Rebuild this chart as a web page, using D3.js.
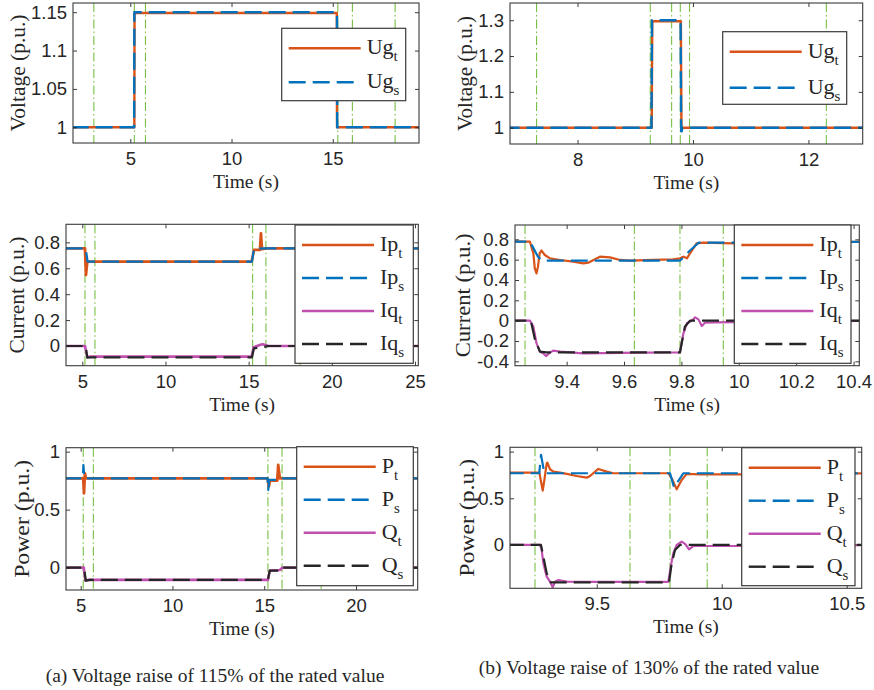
<!DOCTYPE html>
<html>
<head>
<meta charset="utf-8">
<script src="https://cdn.jsdelivr.net/npm/d3@7"></script>
<style>
  body { margin: 0; background: #fff; }
  svg text { fill: #262626; }
  .tick text { font-family: "Liberation Sans", Arial, sans-serif; }
  .lab { font-family: "Liberation Serif", "Times New Roman", serif; }
</style>
</head>
<body>
<svg id="fig" width="874" height="690"></svg>
<script>
// ---- (a) voltage raise of 115% ----
const ugT_a = [[2.1,1],[5.2,1],[5.21,1.149],[15.2,1.149],[15.21,1],[19.3,1]];
const ugS_a = [[2.1,1],[5.19,1],[5.2,1.15],[15.21,1.15],[15.22,1],[19.3,1]];
const ipT_a = [[4,0.754],[5.16,0.754],[5.22,0.548],[5.3,0.651],[15.18,0.651],[15.32,0.741],[15.68,0.741],[15.74,0.869],[15.8,0.748],[16.1,0.754],[25.3,0.754]];
const ipS_a = [[4,0.754],[5.2,0.754],[5.32,0.651],[15.2,0.651],[15.32,0.748],[16,0.754],[25.3,0.754]];
const iqT_a = [[4,0],[5.16,0],[5.3,-0.087],[5.5,-0.082],[15.18,-0.082],[15.3,-0.01],[15.7,0.01],[15.85,0.013],[16.2,0],[25.3,0]];
const iqS_a = [[4,0],[5.2,0],[5.3,-0.09],[5.5,-0.087],[15.2,-0.087],[15.32,-0.018],[16,-0.005],[16.2,0],[25.3,0]];
const pT_a = [[4.1,0.77],[5.14,0.77],[5.18,0.641],[5.23,0.813],[5.28,0.77],[15.18,0.77],[15.25,0.7],[15.31,0.75],[15.71,0.75],[15.76,0.885],[15.85,0.77],[23.5,0.77]];
const pS_a = [[4.1,0.77],[5.12,0.77],[5.15,0.885],[5.2,0.77],[15.18,0.77],[15.22,0.67],[15.27,0.756],[15.95,0.756],[16,0.77],[23.5,0.77]];
const qT_a = [[4.1,0],[5.17,0],[5.25,-0.112],[5.4,-0.106],[15.2,-0.106],[15.3,-0.026],[15.85,-0.02],[16,0],[23.5,0]];
const qS_a = [[4.1,0],[5.18,0],[5.28,-0.112],[5.5,-0.106],[15.2,-0.106],[15.3,-0.026],[15.9,-0.026],[15.97,0],[23.5,0]];

// ---- (b) voltage raise of 130% ----
const ugT_b = [[6.7,1],[9.285,1],[9.295,1.297],[9.79,1.297],[9.8,1],[13,1]];
const ugS_b = [[6.7,1],[9.28,1],[9.29,1.3],[9.785,1.3],[9.795,0.99],[9.805,0.99],[9.815,1],[13,1]];
const ipT_b = [[9.2,0.777],[9.272,0.777],[9.284,0.662],[9.289,0.515],[9.295,0.465],[9.3,0.531],[9.306,0.662],[9.312,0.69],[9.324,0.646],[9.342,0.613],[9.377,0.597],[9.423,0.58],[9.458,0.564],[9.475,0.57],[9.516,0.629],[9.551,0.623],[9.586,0.597],[9.621,0.59],[9.702,0.597],[9.772,0.603],[9.795,0.613],[9.807,0.63],[9.819,0.613],[9.83,0.662],[9.853,0.761],[9.876,0.767],[9.981,0.761],[10.2,0.77],[10.45,0.777]];
const ipS_b = [[9.2,0.777],[9.272,0.777],[9.3,0.63],[9.312,0.595],[9.33,0.59],[9.795,0.59],[9.83,0.69],[9.86,0.767],[10.1,0.77],[10.45,0.777]];
const iqT_b = [[9.2,0],[9.272,0],[9.284,-0.059],[9.295,-0.223],[9.307,-0.305],[9.318,-0.321],[9.328,-0.348],[9.342,-0.315],[9.353,-0.295],[9.377,-0.305],[9.458,-0.321],[9.656,-0.315],[9.795,-0.311],[9.807,-0.125],[9.819,-0.026],[9.836,0],[9.848,0.033],[9.859,0.013],[9.871,-0.052],[9.882,-0.02],[9.911,-0.016],[10.2,-0.01],[10.45,0]];
const iqS_b = [[9.2,0],[9.275,0],[9.29,-0.19],[9.307,-0.305],[9.33,-0.311],[9.795,-0.311],[9.812,-0.06],[9.83,0],[10.45,0]];
const pT_b = [[9.14,0.775],[9.2705,0.775],[9.2759,0.696],[9.2839,0.582],[9.2905,0.696],[9.2999,0.875],[9.3025,0.882],[9.3132,0.811],[9.3265,0.786],[9.3532,0.775],[9.3799,0.761],[9.4199,0.739],[9.4599,0.721],[9.4732,0.739],[9.5065,0.814],[9.5399,0.786],[9.5665,0.768],[9.7865,0.768],[9.7999,0.714],[9.8199,0.596],[9.8399,0.696],[9.8599,0.761],[9.9132,0.757],[10.0732,0.757],[10.3,0.76],[10.6,0.768]];
const pS_b = [[9.14,0.768],[9.27,0.768],[9.2772,0.964],[9.2905,0.768],[9.7932,0.768],[9.8092,0.618],[9.8465,0.768],[10.6,0.768]];
const qT_b = [[9.14,0],[9.2732,0],[9.2799,-0.054],[9.2865,-0.196],[9.2999,-0.339],[9.3132,-0.393],[9.3239,-0.454],[9.3332,-0.393],[9.3465,-0.375],[9.3799,-0.393],[9.5,-0.396],[9.7865,-0.396],[9.7959,-0.232],[9.8065,-0.089],[9.8199,0],[9.8399,0.036],[9.8532,0.011],[9.8692,-0.046],[9.8865,-0.011],[10.1,-0.011],[10.6,0]];
const qS_b = [[9.14,0],[9.277,0],[9.2865,-0.125],[9.2999,-0.304],[9.3159,-0.4],[9.7892,-0.4],[9.7999,-0.196],[9.8132,-0.054],[9.8332,0],[10.6,0]];

// green dash-dot event markers (s)
const marks1 = [3.2, 5.2, 5.75, 15.25, 15.97, 18.08];
const marks2 = [7.29, 9.26, 9.63, 9.78, 9.94, 12.31];
const marks3 = [5.16, 5.76, 15.24, 16.04, 18.1];
const marks4 = [9.255, 9.636, 9.795, 9.946];
const marks5 = [5.14, 5.69, 15.2, 15.97, 18.1];
const marks6 = [9.253, 9.633, 9.793, 9.942];

// ticks
const xt1 = [5, 10, 15], yt1 = [1, 1.05, 1.1, 1.15];
const xt2 = [8, 10, 12], yt2 = [1, 1.1, 1.2, 1.3];
const xt3 = [5, 10, 15, 20, 25], yt3 = [0, 0.2, 0.4, 0.6, 0.8];
const xt4 = [9.4, 9.6, 9.8, 10, 10.2, 10.4], yt4 = [-0.4, -0.2, 0, 0.2, 0.4, 0.6, 0.8];
const xt5 = [5, 10, 15, 20], yt5 = [0, 0.5, 1];
const xt6 = [9.5, 10, 10.5], yt6 = [0, 0.5, 1];

const ORANGE = "#D95319", BLUE = "#0072BD", PINK = "#C050B0", DARK = "#262626", GREEN = "#77C043";
const solid = null, dashed = "17,7";

const svg = d3.select("#fig");

function st(data, color, dash, base, sub, w) {
  return {data, color, dash, base, sub, w: w || 2.2};
}

const panels = [
  {id: 1, box: [73, 3, 419, 143], xDom: [2.17, 19.26], yDom: [0.9795, 1.162], xt: xt1, yt: yt1, marks: marks1,
   ylab: "Voltage (p.u.)", ylabX: -55, ylabLen: 117,
   series: [st(ugT_a, ORANGE, solid, "Ug", "t", 2.4), st(ugS_a, BLUE, dashed, "Ug", "s", 2.4)],
   legend: [281.7, 28.3, 124, 72.4], rowGap: 34},
  {id: 2, box: [510, 3, 862.7, 144], xDom: [6.83, 12.94], yDom: [0.9546, 1.348], xt: xt2, yt: yt2, marks: marks2,
   ylab: "Voltage (p.u.)", ylabX: -45, ylabLen: 115,
   series: [st(ugT_b, ORANGE, solid, "Ug", "t", 2.4), st(ugS_b, BLUE, dashed, "Ug", "s", 2.4)],
   legend: [722.7, 31.7, 124, 72.6], rowGap: 36},
  {id: 3, box: [66, 224.3, 418.3, 365.7], xDom: [4.02, 25.2], yDom: [-0.152, 0.939], xt: xt3, yt: yt3, marks: marks3,
   ylab: "Current (p.u.)", ylabX: -49, ylabLen: 117,
   series: [st(ipT_a, ORANGE, solid, "Ip", "t", 2.8), st(ipS_a, BLUE, dashed, "Ip", "s"),
            st(iqT_a, PINK, solid, "Iq", "t", 2.6), st(iqS_a, DARK, dashed, "Iq", "s")],
   legend: [295, 225, 118.3, 138.3], rowGap: 33},
  {id: 4, box: [515, 225, 859.3, 365.7], xDom: [9.22, 10.42], yDom: [-0.443, 0.941], xt: xt4, yt: yt4, marks: marks4,
   ylab: "Current (p.u.)", ylabX: -52, ylabLen: 124,
   series: [st(ipT_b, ORANGE, solid, "Ip", "t"), st(ipS_b, BLUE, dashed, "Ip", "s"),
            st(iqT_b, PINK, solid, "Iq", "t"), st(iqS_b, DARK, dashed, "Iq", "s")],
   legend: [734.3, 225, 116.7, 138.3], rowGap: 33},
  {id: 5, box: [66, 447.7, 417.7, 590], xDom: [4.2, 23.36], yDom: [-0.193, 1.034], xt: xt5, yt: yt5, marks: marks5,
   ylab: "Power (p.u.)", ylabX: -44, ylabLen: 118,
   series: [st(pT_a, ORANGE, solid, "P", "t", 2.8), st(pS_a, BLUE, dashed, "P", "s"),
            st(qT_a, PINK, solid, "Q", "t", 2.6), st(qS_a, DARK, dashed, "Q", "s")],
   legend: [296.7, 446.7, 116.6, 139], rowGap: 33},
  {id: 6, box: [510, 447.3, 861.7, 588.3], xDom: [9.153, 10.56], yDom: [-0.464, 1.046], xt: xt6, yt: yt6, marks: marks6,
   ylab: "Power (p.u.)", ylabX: -43, ylabLen: 118,
   series: [st(pT_b, ORANGE, solid, "P", "t"), st(pS_b, BLUE, dashed, "P", "s"),
            st(qT_b, PINK, solid, "Q", "t"), st(qS_b, DARK, dashed, "Q", "s")],
   legend: [741.7, 447.7, 113.3, 138], rowGap: 33}
];

panels.forEach(drawPanel);

function drawPanel(p) {
  let w = p.box[2] - p.box[0];
  let h = p.box[3] - p.box[1];
  let g = svg.append("g").attr("transform", "translate(" + p.box[0] + "," + p.box[1] + ")");

  let x = d3.scaleLinear().domain(p.xDom).range([0, w]);
  let y = d3.scaleLinear().domain(p.yDom).range([h, 0]);

  g.append("clipPath").attr("id", "clip" + p.id)
    .append("rect").attr("width", w).attr("height", h);
  let plot = g.append("g").attr("clip-path", "url(#clip" + p.id + ")");

  // event markers
  plot.selectAll(".mark").data(p.marks).join("line")
    .attr("class", "mark")
    .attr("x1", d => x(d)).attr("x2", d => x(d))
    .attr("y1", 0).attr("y2", h)
    .attr("stroke", GREEN).attr("stroke-width", 1.1)
    .attr("stroke-dasharray", "9,3,1.5,3");

  let line = d3.line().x(d => x(d[0])).y(d => y(d[1]));

  plot.selectAll(".series").data(p.series).join("path")
    .attr("class", "series")
    .attr("d", s => line(s.data))
    .attr("fill", "none")
    .attr("stroke", s => s.color)
    .attr("stroke-width", s => s.w)
    .attr("stroke-linejoin", "round")
    .attr("stroke-dasharray", s => s.dash);

  // axes, ticks pointing inside like matlab
  let fmt = d => String(d);
  let xa = g.append("g").attr("transform", "translate(0," + h + ")")
    .call(d3.axisBottom(x).tickValues(p.xt).tickFormat(fmt).tickSizeInner(-4).tickSizeOuter(0).tickPadding(9));
  let xt = g.append("g")
    .call(d3.axisTop(x).tickValues(p.xt).tickFormat("").tickSizeInner(-4).tickSizeOuter(0));
  let ya = g.append("g")
    .call(d3.axisLeft(y).tickValues(p.yt).tickFormat(fmt).tickSizeInner(-4).tickSizeOuter(0).tickPadding(6));
  let yr = g.append("g").attr("transform", "translate(" + w + ",0)")
    .call(d3.axisRight(y).tickValues(p.yt).tickFormat("").tickSizeInner(-4).tickSizeOuter(0));
  [xa, xt, ya, yr].forEach(a => {
    a.select(".domain").remove();
    a.selectAll(".tick line").attr("stroke", DARK).attr("stroke-width", 0.9);
  });
  xa.selectAll(".tick text").attr("font-size", 18.5).attr("fill", DARK);
  ya.selectAll(".tick text").attr("font-size", 18.5).attr("fill", DARK);

  g.append("rect").attr("width", w).attr("height", h)
    .attr("fill", "none").attr("stroke", "#3a3a3a").attr("stroke-width", 1.1);

  // axis titles
  g.append("text").attr("class", "lab")
    .attr("x", w / 2).attr("y", h + 45)
    .attr("text-anchor", "middle").attr("font-size", 19.5)
    .text("Time (s)");
  g.append("text").attr("class", "lab")
    .attr("transform", "translate(" + (p.ylabX + 7) + "," + (h / 2) + ") rotate(-90)")
    .attr("text-anchor", "middle").attr("font-size", 20)
    .attr("textLength", p.ylabLen).attr("lengthAdjust", "spacingAndGlyphs")
    .text(p.ylab);

  // legend
  let lg = svg.append("g").attr("transform", "translate(" + p.legend[0] + "," + p.legend[1] + ")");
  lg.append("rect").attr("width", p.legend[2]).attr("height", p.legend[3])
    .attr("fill", "#fff").attr("stroke", "#3a3a3a").attr("stroke-width", 1.2);
  let rows = lg.selectAll(".row").data(p.series).join("g")
    .attr("class", "row")
    .attr("transform", (s, i) => "translate(0," + (20 + i * p.rowGap) + ")");
  rows.append("line")
    .attr("x1", 7).attr("x2", 79).attr("y1", 0).attr("y2", 0)
    .attr("stroke", s => s.color).attr("stroke-width", 2.4)
    .attr("stroke-dasharray", s => s.dash);
  let t = rows.append("text").attr("class", "lab")
    .attr("x", 85).attr("y", 6).attr("font-size", 22);
  t.append("tspan").text(s => s.base);
  t.append("tspan").attr("dy", 7).attr("font-size", 15).text(s => s.sub);
}

// captions
svg.append("text").attr("class", "lab")
  .attr("x", 215).attr("y", 682).attr("text-anchor", "middle").attr("font-size", 19.5)
  .text("(a) Voltage raise of 115% of the rated value");
svg.append("text").attr("class", "lab")
  .attr("x", 649).attr("y", 674).attr("text-anchor", "middle").attr("font-size", 19.5)
  .text("(b) Voltage raise of 130% of the rated value");
</script>
</body>
</html>
